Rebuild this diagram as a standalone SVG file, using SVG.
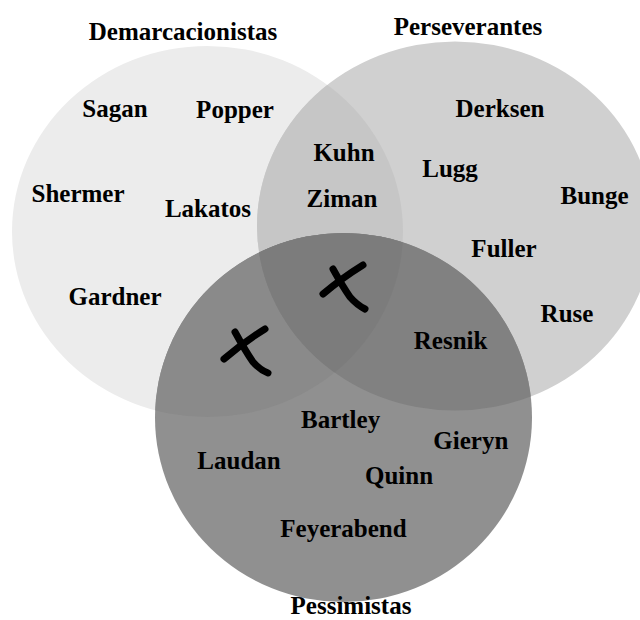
<svg xmlns="http://www.w3.org/2000/svg" width="640" height="620" viewBox="0 0 640 620">
<style>
text{font-family:"Liberation Serif","Times New Roman",serif;font-weight:bold;font-size:25px;fill:#000;text-anchor:middle}
.x{fill:none;stroke:#000;stroke-width:7;stroke-linecap:round;stroke-linejoin:round}
</style>
<defs>
<ellipse id="e1" cx="207.5" cy="231.5" rx="195.5" ry="185.5"/>
<ellipse id="e2" cx="455" cy="226" rx="198" ry="184.5"/>
<ellipse id="e3" cx="343.5" cy="417.5" rx="188.5" ry="184.5"/>
<clipPath id="c1"><use href="#e1"/></clipPath>
<clipPath id="c2"><use href="#e2"/></clipPath>
<clipPath id="c3"><use href="#e3"/></clipPath>
</defs>
<rect width="640" height="620" fill="#fff"/>
<g id="demarcacionistas">
<use href="#e1" fill="#ececec"/>
<text x="183" y="40">Demarcacionistas</text>
</g>
<g id="perseverantes">
<use href="#e2" fill="#d0d0d0"/>
<g clip-path="url(#c1)"><use href="#e2" fill="#c6c6c6"/></g>
<text x="468" y="35">Perseverantes</text>
</g>
<g id="pessimistas">
<use href="#e3" fill="#909090"/>
<g clip-path="url(#c1)"><use href="#e3" fill="#8a8a8a"/></g>
<g clip-path="url(#c2)"><use href="#e3" fill="#818181"/></g>
<g clip-path="url(#c1)"><g clip-path="url(#c2)"><use href="#e3" fill="#7c7c7c"/></g></g>
<text x="351" y="614">Pessimistas</text>
</g>
<g id="names">
<text x="115" y="117">Sagan</text>
<text x="235" y="118">Popper</text>
<text x="500" y="117">Derksen</text>
<text x="344" y="161">Kuhn</text>
<text x="450" y="177">Lugg</text>
<text x="78" y="202">Shermer</text>
<text x="208" y="217">Lakatos</text>
<text x="342" y="207">Ziman</text>
<text x="594.5" y="204">Bunge</text>
<text x="504" y="257">Fuller</text>
<text x="115" y="305">Gardner</text>
<text x="567" y="322">Ruse</text>
<text x="450.6" y="349">Resnik</text>
<text x="340.6" y="428">Bartley</text>
<text x="470.8" y="449">Gieryn</text>
<text x="239" y="469">Laudan</text>
<text x="399" y="484">Quinn</text>
<text x="343.5" y="537">Feyerabend</text>
</g>
<g id="marks">
<path class="x" d="M224,359 Q244,342 265,329"/>
<path class="x" d="M235,332 Q246,352 253,362 Q260,370 268,373"/>
<path class="x" d="M323,294 Q342,278 363,265"/>
<path class="x" d="M333,269 Q343,287 350,297 Q357,305 365,309"/>
</g>
</svg>
